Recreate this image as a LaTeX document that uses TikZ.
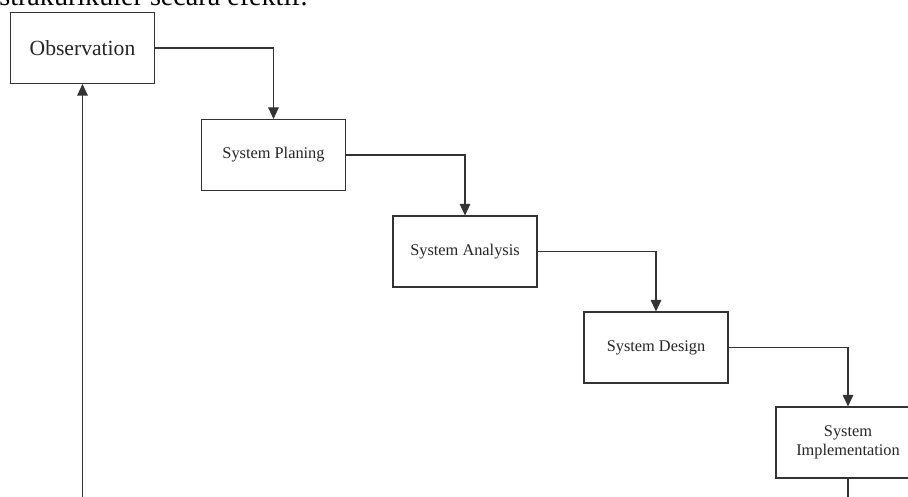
\documentclass[tikz,border=0pt]{standalone}
\usepackage{fontspec}
\setmainfont{Liberation Serif}
\usepackage{tikz}
\usetikzlibrary{arrows.meta}
\tikzset{
	stepnode/.style = {
		rectangle,
		align=center,
		draw=black!80,
		line width=0.6pt,
		fill=white,
		text=black!85,
		font=\fontsize{9.3}{11}\selectfont,
		minimum width=2.88cm,
		minimum height=1.42cm,
		inner sep=0pt
	},
	stepnode_big/.style = {
		stepnode,
		font=\fontsize{12.3}{14}\selectfont
	},
	flow/.style = {
		draw=black!80,
		line width=0.6pt
	},
}

\begin{document}
\begin{tikzpicture}[>={Triangle[length=2.3mm,width=2.1mm]}]
\useasboundingbox (0,0) rectangle (18.16,9.94);
\clip (0,0) rectangle (18.16,9.94);
% cut-off line of body text above the figure
\node [anchor=base west, inner sep=0pt, font=\fontsize{16}{18}\selectfont] (pagetext) at (-0.02,9.82) {strakurikuler secara efektif.};

\node [stepnode_big] (obs) at (1.65,8.98) {Observation};
\node [stepnode] (plan) at (5.47,6.84) {System Planing};
\node [stepnode] (anal) at (9.30,4.91) {System Analysis};
\node [stepnode] (design) at (13.12,2.99) {System Design};
\node [stepnode] (impl) at (16.96,1.09) {System\\Implementation};

\coordinate (obs_in) at (1.65,0);
\coordinate (impl_out) at (16.96,0);

\draw [flow,->] (obs) -| (plan);
\draw [flow,->] (plan) -| (anal);
\draw [flow,->] (anal) -| (design);
\draw [flow,->] (design) -| (impl);
\draw [flow] (impl) -- (impl_out);
\draw [flow,->] (obs_in) -- (obs);
\end{tikzpicture}
\end{document}
